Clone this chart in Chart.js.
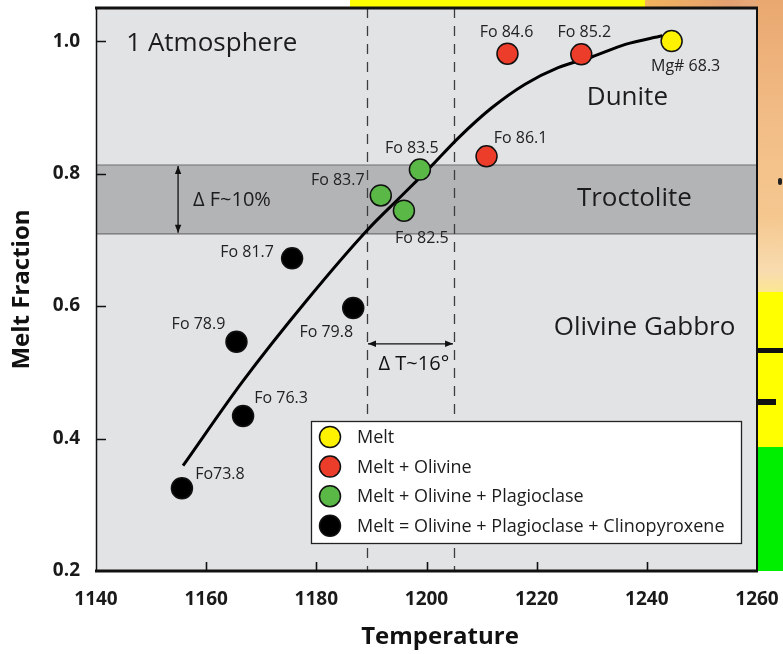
<!DOCTYPE html>
<html>
<head>
<meta charset="utf-8">
<title>Melt fraction vs temperature</title>
<script src="https://cdn.jsdelivr.net/npm/chart.js@4.4.1/dist/chart.umd.min.js"></script>
<style>
  html, body { margin: 0; padding: 0; background: #fff; }
  #wrap { position: relative; width: 783px; height: 654px; overflow: hidden; }
  .deco { position: absolute; }
  canvas { position: absolute; left: 0; top: 0; }
</style>
</head>
<body>
<div id="wrap">
  <!-- poster backdrop peeking out behind the plot -->
  <div class="deco" style="left:350px;top:0;width:296px;height:9px;background:#ffff00"></div>
  <div class="deco" style="left:645px;top:0;width:138px;height:9px;background:linear-gradient(90deg,#f2b45c,#e4a070 60%,#eab182)"></div>
  <div class="deco" style="left:756px;top:0;width:27px;height:292px;background:linear-gradient(180deg,#e9a86f 0%,#f2bc86 40%,#f5c890 75%,#f8dcb0 93%,#fbe690 100%)"></div>
  <div class="deco" style="left:756px;top:292px;width:27px;height:156px;background:#ffff00"></div>
  <div class="deco" style="left:756px;top:447px;width:27px;height:124px;background:#00ee00"></div>
  <div class="deco" style="left:756px;top:348px;width:27px;height:5px;background:#111"></div>
  <div class="deco" style="left:756px;top:399px;width:20px;height:6px;background:#111"></div>
  <div class="deco" style="left:778px;top:178px;width:4px;height:7px;background:#222;border-radius:2px"></div>
  <canvas id="c" width="783" height="654"></canvas>
</div>
<script>
// Axis ticks
const xTicks = [1140, 1160, 1180, 1200, 1220, 1240, 1260];
const yTicks = [0.2, 0.4, 0.6, 0.8, 1.0];

// Phase assemblages (legend order)
const seriesNames = [
  'Melt',
  'Melt + Olivine',
  'Melt + Olivine + Plagioclase',
  'Melt = Olivine + Plagioclase + Clinopyroxene'
];

// Melt only
const meltTemp = [1244.5];
const meltFrac = [1.0];
const meltTags = ['Mg# 68.3'];

// Melt + olivine
const olTemp = [1214.7, 1228.1, 1210.9];
const olFrac = [0.981, 0.980, 0.826];
const olTags = ['Fo 84.6', 'Fo 85.2', 'Fo 86.1'];

// Melt + olivine + plagioclase
const plagTemp = [1198.8, 1191.7, 1195.9];
const plagFrac = [0.806, 0.767, 0.744];
const plagTags = ['Fo 83.5', 'Fo 83.7', 'Fo 82.5'];

// Melt + olivine + plagioclase + clinopyroxene
const cpxTemp = [1175.6, 1186.7, 1165.5, 1166.7, 1155.6];
const cpxFrac = [0.672, 0.597, 0.546, 0.434, 0.325];
const cpxTags = ['Fo 81.7', 'Fo 79.8', 'Fo 78.9', 'Fo 76.3', 'Fo73.8'];

// Hand-fitted crystallisation trend
const trendTemp = [1155.8, 1166.7, 1178.2, 1189.4, 1195.3, 1200.6, 1205.8, 1211.8, 1217.9, 1223.9, 1230.0, 1236.1, 1242.8];
const trendFrac = [0.359, 0.487, 0.608, 0.716, 0.765, 0.809, 0.854, 0.899, 0.935, 0.960, 0.976, 0.995, 1.008];

// Troctolite melt-fraction window and bounding isotherms
const troctoliteBand = [0.709, 0.813];
const isotherms = [1189.2, 1205.0];

// Region captions (data coordinates, left/middle anchored)
const regionNotes = [
  { text: '1 Atmosphere', t: 1145.5, f: 0.997 },
  { text: 'Dunite', t: 1229.1, f: 0.914 },
  { text: 'Troctolite', t: 1227.3, f: 0.763 },
  { text: 'Olivine Gabbro', t: 1223.1, f: 0.567 }
];

// Label placement around each marker (px offset of text centre)
const tagOffsets = {
  'Mg# 68.3': [14, 25], 'Fo 84.6': [-1, -21], 'Fo 85.2': [3, -22], 'Fo 86.1': [34, -18],
  'Fo 83.5': [-8, -21], 'Fo 83.7': [-43, -15], 'Fo 82.5': [18, 28],
  'Fo 81.7': [-45, -6], 'Fo 79.8': [-27, 24], 'Fo 78.9': [-38, -17],
  'Fo 76.3': [38, -18], 'Fo73.8': [38, -14]
};

const FONT = "'Open Sans', 'Noto Sans', sans-serif";
const X_TITLE = 'Temperature';
const pts = (xs, ys) => xs.map((x, i) => ({ x, y: ys[i] }));

function markerSet(name, xs, ys, tags, fill) {
  return {
    type: 'scatter', label: name, data: pts(xs, ys), tags,
    backgroundColor: fill, borderColor: '#111', borderWidth: 1.5,
    pointRadius: 10.5, pointHoverRadius: 10.5
  };
}

function arrow(ctx, x1, y1, x2, y2) {
  const ang = Math.atan2(y2 - y1, x2 - x1);
  const L = 8, W = 3.2;
  ctx.strokeStyle = '#111';
  ctx.fillStyle = '#111';
  ctx.lineWidth = 1.3;
  ctx.beginPath(); ctx.moveTo(x1, y1); ctx.lineTo(x2, y2); ctx.stroke();
  [[x2, y2, ang], [x1, y1, ang + Math.PI]].forEach(([px, py, a]) => {
    ctx.beginPath();
    ctx.moveTo(px, py);
    ctx.lineTo(px - L * Math.cos(a) + W * Math.sin(a), py - L * Math.sin(a) - W * Math.cos(a));
    ctx.lineTo(px - L * Math.cos(a) - W * Math.sin(a), py - L * Math.sin(a) + W * Math.cos(a));
    ctx.closePath(); ctx.fill();
  });
}

const backdrop = {
  id: 'backdrop',
  beforeDraw(chart) {
    const { ctx, chartArea: a, scales: { x, y } } = chart;
    ctx.save();
    ctx.fillStyle = '#e2e3e5';
    ctx.fillRect(a.left, a.top, a.right - a.left, a.bottom - a.top);

    // troctolite window
    const yHi = y.getPixelForValue(troctoliteBand[1]);
    const yLo = y.getPixelForValue(troctoliteBand[0]);
    ctx.fillStyle = '#b3b4b6';
    ctx.fillRect(a.left, yHi, a.right - a.left, yLo - yHi);
    ctx.strokeStyle = '#707070';
    ctx.lineWidth = 1.2;
    ctx.beginPath();
    ctx.moveTo(a.left, yHi); ctx.lineTo(a.right, yHi);
    ctx.moveTo(a.left, yLo); ctx.lineTo(a.right, yLo);
    ctx.stroke();

    // isotherms
    ctx.setLineDash([10, 8]);
    ctx.strokeStyle = '#3c3c3c';
    ctx.lineWidth = 1.3;
    isotherms.forEach(t => {
      const px = Math.round(x.getPixelForValue(t)) + 0.5;
      ctx.beginPath(); ctx.moveTo(px, a.top); ctx.lineTo(px, a.bottom); ctx.stroke();
    });
    ctx.setLineDash([]);

    // region captions
    ctx.fillStyle = '#1c1c1c';
    ctx.font = `26px ${FONT}`;
    ctx.textBaseline = 'middle';
    ctx.textAlign = 'left';
    regionNotes.forEach(n => ctx.fillText(n.text, x.getPixelForValue(n.t), y.getPixelForValue(n.f)));

    // delta-F double arrow
    const ax = x.getPixelForValue(1154.9);
    arrow(ctx, ax, yHi + 1, ax, yLo - 1);
    ctx.font = `20px ${FONT}`;
    ctx.fillStyle = '#1c1c1c';
    ctx.fillText('\u0394 F~10%', x.getPixelForValue(1157.6), (yHi + yLo) / 2 + 1);

    // delta-T double arrow
    const ay = y.getPixelForValue(0.543);
    arrow(ctx, x.getPixelForValue(isotherms[0]) + 1, ay, x.getPixelForValue(isotherms[1]) - 1, ay);
    ctx.fillText('\u0394 T~16\u00b0', x.getPixelForValue(1191.3), y.getPixelForValue(0.5125));

    // x-axis title
    ctx.font = `bold 24px ${FONT}`;
    ctx.fillStyle = '#111';
    ctx.textAlign = 'center';
    ctx.textBaseline = 'alphabetic';
    ctx.fillText(X_TITLE, 440, 644);
    ctx.restore();
  }
};

const overlay = {
  id: 'overlay',
  afterDatasetsDraw(chart) {
    const { ctx, chartArea: a, scales: { x, y } } = chart;
    ctx.save();

    // marker labels
    ctx.font = `16px ${FONT}`;
    ctx.fillStyle = '#222';
    ctx.textAlign = 'center';
    ctx.textBaseline = 'middle';
    chart.data.datasets.forEach((ds, di) => {
      if (!ds.tags) return;
      const meta = chart.getDatasetMeta(di);
      ds.tags.forEach((tag, i) => {
        const el = meta.data[i];
        const [dx, dy] = tagOffsets[tag] || [0, -20];
        ctx.fillText(tag, el.x + dx, el.y + dy);
      });
    });

    // inward tick marks
    ctx.strokeStyle = '#111';
    ctx.lineWidth = 1.6;
    ctx.beginPath();
    yTicks.forEach(v => {
      if (v === y.min) return;
      const py = Math.round(y.getPixelForValue(v)) + 0.5;
      ctx.moveTo(a.left, py); ctx.lineTo(a.left + 10, py);
    });
    xTicks.forEach(v => {
      if (v === x.min || v === x.max) return;
      const px = Math.round(x.getPixelForValue(v)) + 0.5;
      ctx.moveTo(px, a.bottom); ctx.lineTo(px, a.bottom - 9);
    });
    ctx.stroke();

    // plot frame
    ctx.strokeStyle = '#111';
    ctx.lineWidth = 1.5;
    ctx.beginPath(); ctx.moveTo(a.left + 0.5, a.top); ctx.lineTo(a.left + 0.5, a.bottom); ctx.stroke();
    ctx.lineWidth = 2;
    ctx.beginPath(); ctx.moveTo(a.right, a.top); ctx.lineTo(a.right, a.bottom); ctx.stroke();
    ctx.lineWidth = 3;
    ctx.beginPath(); ctx.moveTo(a.left - 1, a.top); ctx.lineTo(a.right + 1, a.top); ctx.stroke();
    ctx.beginPath(); ctx.moveTo(a.left - 1, a.bottom); ctx.lineTo(a.right + 1, a.bottom); ctx.stroke();

    // legend panel
    const bx = a.left + 215, by = a.top + 413, bw = 430, bh = 122;
    ctx.fillStyle = '#fff';
    ctx.fillRect(bx, by, bw, bh);
    ctx.strokeStyle = '#222';
    ctx.lineWidth = 1.3;
    ctx.strokeRect(bx + 0.5, by + 0.5, bw, bh);
    ctx.font = `18px ${FONT}`;
    ctx.textAlign = 'left';
    ctx.textBaseline = 'middle';
    chart.data.datasets.forEach((ds, di) => {
      if (!ds.tags) return;
      const cy = by + 16 + di * 29.6;
      ctx.beginPath();
      ctx.arc(bx + 19, cy, 10.5, 0, Math.PI * 2);
      ctx.fillStyle = ds.backgroundColor;
      ctx.fill();
      ctx.lineWidth = 1.5;
      ctx.strokeStyle = '#111';
      ctx.stroke();
      ctx.fillStyle = '#1c1c1c';
      ctx.fillText(ds.label, bx + 46, cy + 1);
    });
    ctx.restore();
  }
};

new Chart(document.getElementById('c'), {
  data: {
    datasets: [
      markerSet(seriesNames[0], meltTemp, meltFrac, meltTags, '#fff200'),
      markerSet(seriesNames[1], olTemp, olFrac, olTags, '#ec3d2b'),
      markerSet(seriesNames[2], plagTemp, plagFrac, plagTags, '#5ab946'),
      markerSet(seriesNames[3], cpxTemp, cpxFrac, cpxTags, '#000000'),
      {
        type: 'line', label: 'trend', data: pts(trendTemp, trendFrac),
        borderColor: '#000', borderWidth: 3, pointRadius: 0, fill: false,
        cubicInterpolationMode: 'monotone', tension: 0.4
      }
    ]
  },
  options: {
    responsive: false,
    animation: false,
    events: [],
    layout: { autoPadding: false, padding: { left: 0, right: 26, top: 8, bottom: 0 } },
    plugins: { legend: { display: false }, tooltip: { enabled: false } },
    scales: {
      x: {
        type: 'linear', min: 1140, max: 1260,
        afterBuildTicks: s => { s.ticks = xTicks.map(v => ({ value: v })); },
        afterFit: s => { s.height = 83; s.paddingLeft = 0; s.paddingRight = 0; },
        grid: { display: false, drawTicks: false },
        border: { display: false },
        ticks: { font: { family: FONT, size: 19, weight: 'bold' }, color: '#1a1a1a', padding: 17, maxRotation: 0,
                 callback: v => String(v) },
        title: { display: false }
      },
      y: {
        type: 'linear', min: 0.2, max: 1.05,
        afterBuildTicks: s => { s.ticks = yTicks.map(v => ({ value: v })); },
        afterFit: s => { s.width = 96; s.paddingTop = 0; s.paddingBottom = 0; },
        grid: { display: false, drawTicks: false },
        border: { display: false },
        ticks: { font: { family: FONT, size: 19, weight: 'bold' }, color: '#1a1a1a', padding: 16,
                 callback: v => Number(v).toFixed(1) },
        title: { display: true, text: 'Melt Fraction', color: '#111',
                 font: { family: FONT, size: 24, weight: 'bold' }, padding: { top: 8, bottom: 0 } }
      }
    }
  },
  plugins: [backdrop, overlay]
});
</script>
</body>
</html>
